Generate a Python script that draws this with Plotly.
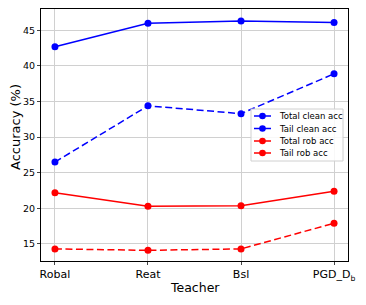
import plotly.graph_objects as go

teachers = ["Robal", "Reat", "Bsl", "PGD_D<sub>b</sub>"]
total_clean = [42.7, 46.0, 46.3, 46.1]
tail_clean = [26.5, 34.4, 33.3, 38.9]
total_rob = [22.2, 20.3, 20.35, 22.4]
tail_rob = [14.3, 14.1, 14.3, 17.9]

W, H = 366, 305
L, R, T, B = 41, 18, 9, 44
pw, ph = W - L - R, H - T - B
DASH = "7px,3.5px"

def px(x):
    return (x - L) / pw

def py(y):
    return (H - B - y) / ph

xs = list(range(len(teachers)))
fig = go.Figure()
series = [
    ("Total clean acc", total_clean, "blue", "solid"),
    ("Tail clean acc", tail_clean, "blue", DASH),
    ("Total rob acc", total_rob, "red", "solid"),
    ("Tail rob acc", tail_rob, "red", DASH),
]
for name, vals, col, dash in series:
    fig.add_trace(go.Scatter(x=xs, y=vals, name=name, mode="lines+markers",
                             line=dict(color=col, width=1.5, dash=dash),
                             marker=dict(color=col, size=7), showlegend=False))

shapes = []
annotations = []
# legend box
shapes.append(dict(type="rect", xref="paper", yref="paper",
                   x0=px(251), x1=px(343), y0=py(161), y1=py(109),
                   line=dict(color="#d0d0d0", width=1), fillcolor="rgba(255,255,255,0.85)",
                   layer="above"))
item_y = [116, 128.5, 141, 153]
for (name, vals, col, dash), iy in zip(series, item_y):
    shapes.append(dict(type="line", xref="paper", yref="paper",
                       x0=px(254), x1=px(271), y0=py(iy), y1=py(iy),
                       line=dict(color=col, width=1.5, dash=dash),
                       layer="above"))
    r = 3.3
    shapes.append(dict(type="circle", xref="paper", yref="paper",
                       x0=px(262.5 - r), x1=px(262.5 + r), y0=py(iy + r), y1=py(iy - r),
                       line=dict(color=col, width=0), fillcolor=col, layer="above"))
    annotations.append(dict(text=name, xref="paper", yref="paper", x=px(277), y=py(iy),
                            xanchor="left", yanchor="middle", showarrow=False,
                            font=dict(size=8.5, family="DejaVu Sans", color="black")))

annotations.append(dict(text="Teacher", xref="paper", yref="paper", x=px(195), y=py(287),
                        xanchor="center", yanchor="middle", showarrow=False,
                        font=dict(size=12.5, family="DejaVu Sans", color="black")))
annotations.append(dict(text="Accuracy (%)", xref="paper", yref="paper", x=px(15), y=py(127),
                        xanchor="center", yanchor="middle", showarrow=False, textangle=-90,
                        font=dict(size=13, family="DejaVu Sans", color="black")))

fig.update_layout(
    width=W, height=H,
    margin=dict(l=L, r=R, t=T, b=B),
    paper_bgcolor="white", plot_bgcolor="white",
    font=dict(family="DejaVu Sans", color="black", size=11),
    showlegend=False,
    shapes=shapes, annotations=annotations,
)
fig.update_xaxes(tickmode="array", tickvals=xs, ticktext=teachers, range=[-0.15, 3.15],
                 showgrid=True, gridcolor="#d0d0d0", showline=True, linecolor="black",
                 mirror=True, ticks="outside", ticklen=3, zeroline=False, automargin=False,
                 tickfont=dict(size=11))
fig.update_yaxes(range=[12.6, 48.0], tickvals=[15, 20, 25, 30, 35, 40, 45],
                 showgrid=True, gridcolor="#d0d0d0", showline=True, linecolor="black",
                 mirror=True, ticks="outside", ticklen=3, zeroline=False, automargin=False,
                 tickfont=dict(size=9.5))
fig.write_html("out.html", config={"displayModeBar": False},
               post_script="document.body.style.margin='0';document.body.style.overflow='hidden';")
